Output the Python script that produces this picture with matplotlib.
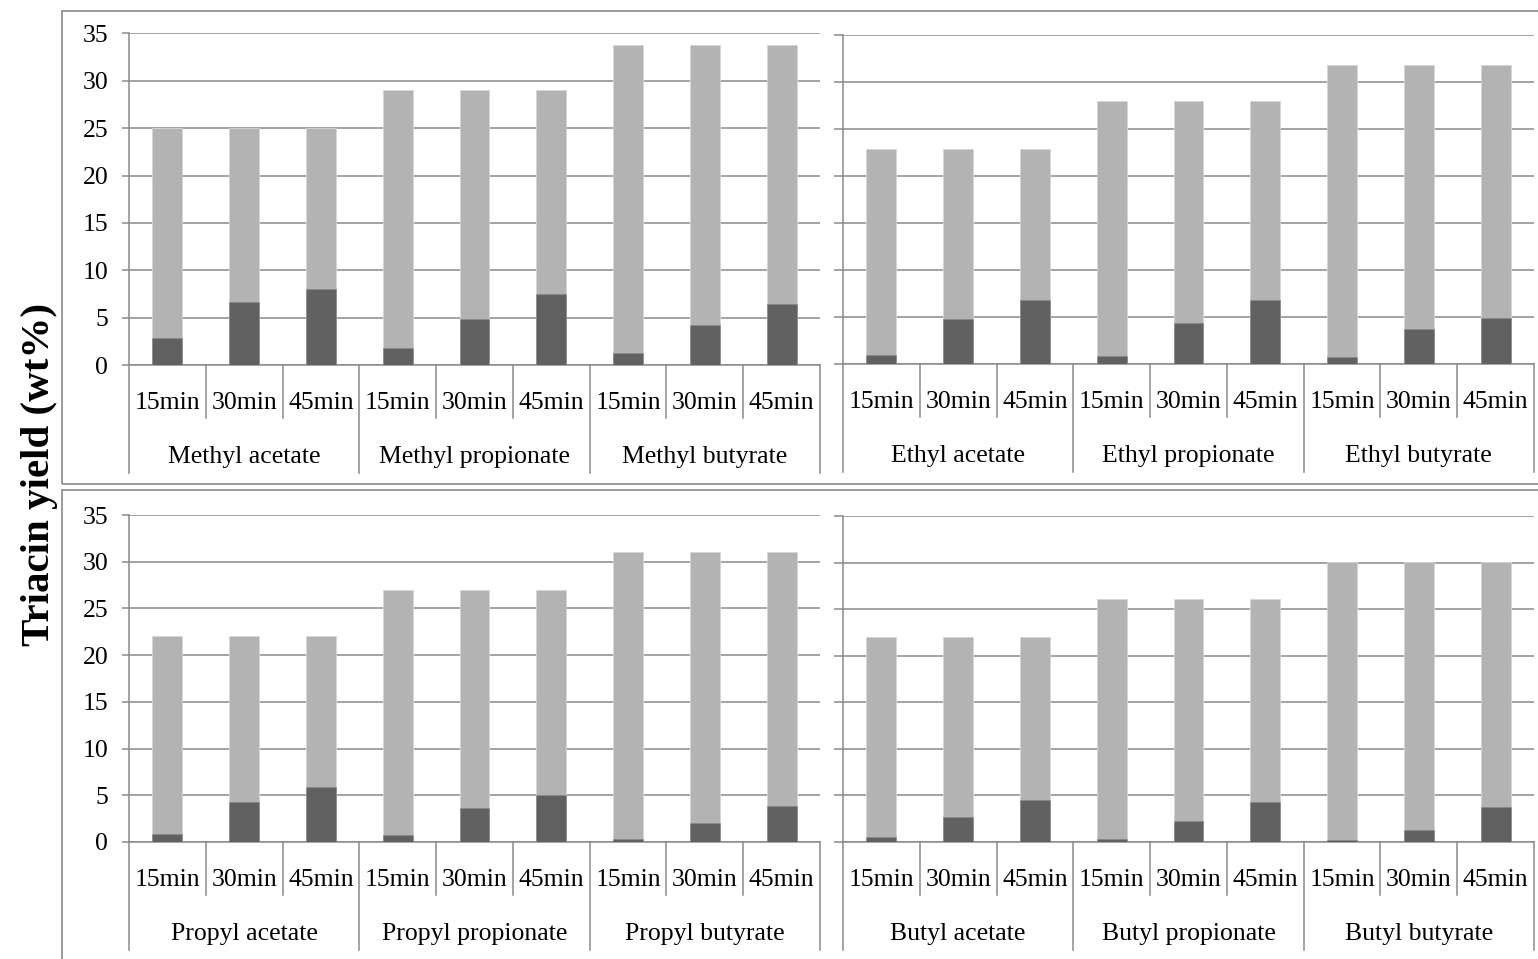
import matplotlib
matplotlib.use("Agg")
import matplotlib.pyplot as plt
from matplotlib.lines import Line2D
from matplotlib.patches import Rectangle
from matplotlib.transforms import blended_transform_factory

# ---------------- data ----------------
time_labels = ["15min", "30min", "45min"]

groups_methyl = ["Methyl acetate", "Methyl propionate", "Methyl butyrate"]
total_methyl = [25.0, 25.0, 25.0, 29.0, 29.0, 29.0, 33.8, 33.8, 33.8]
dark_methyl = [2.8, 6.7, 8.0, 1.8, 4.9, 7.5, 1.3, 4.2, 6.4]

groups_ethyl = ["Ethyl acetate", "Ethyl propionate", "Ethyl butyrate"]
total_ethyl = [22.9, 22.9, 22.9, 28.0, 28.0, 28.0, 31.9, 31.9, 31.9]
dark_ethyl = [1.0, 4.75, 6.8, 0.85, 4.35, 6.8, 0.7, 3.7, 4.85]

groups_propyl = ["Propyl acetate", "Propyl propionate", "Propyl butyrate"]
total_propyl = [22.0, 22.0, 22.0, 27.0, 27.0, 27.0, 31.0, 31.0, 31.0]
dark_propyl = [0.9, 4.3, 5.9, 0.7, 3.6, 5.0, 0.35, 2.0, 3.9]

groups_butyl = ["Butyl acetate", "Butyl propionate", "Butyl butyrate"]
total_butyl = [22.0, 22.0, 22.0, 26.1, 26.1, 26.1, 30.1, 30.1, 30.1]
dark_butyl = [0.55, 2.7, 4.5, 0.3, 2.3, 4.3, 0.2, 1.25, 3.8]

y_ticks = [0, 5, 10, 15, 20, 25, 30, 35]
y_label = "Triacin yield (wt%)"

# ---------------- style ----------------
W, H = 1538, 959
GRAY = "#8a8a8a"
LIGHT = "#b3b3b3"
DARK = "#616161"
FONT = "Liberation Serif"
FS = 18.5

plt.rcParams["font.family"] = [FONT, "DejaVu Serif"]

fig = plt.figure(figsize=(W / 100, H / 100), dpi=100)


def rect(x0, x1, ytop, ybot):
    return [x0 / W, 1 - ybot / H, (x1 - x0) / W, (ybot - ytop) / H]


panels = [
    (rect(129, 820, 33.5, 365), 365, groups_methyl, total_methyl, dark_methyl, True),
    (rect(843, 1534, 35.5, 364), 364, groups_ethyl, total_ethyl, dark_ethyl, False),
    (rect(129, 820, 515, 842), 842, groups_propyl, total_propyl, dark_propyl, True),
    (rect(843, 1534, 516, 842), 842, groups_butyl, total_butyl, dark_butyl, False),
]

for pos, ybot, groups, totals, darks, show_labels in panels:
    ax = fig.add_axes(pos)
    n = len(totals)
    xs = list(range(n))
    ax.bar(xs, totals, width=0.39, color=LIGHT, edgecolor="#d6d6d6",
           linewidth=0.6, zorder=2)
    ax.bar(xs, darks, width=0.39, color=DARK, edgecolor="#8a8a8a",
           linewidth=0.4, zorder=3)
    ax.set_xlim(-0.5, n - 0.5)
    ax.set_ylim(0, 35)
    ax.set_yticks(y_ticks)
    ax.set_xticks([])
    ax.set_axisbelow(True)
    ax.yaxis.grid(True, color=GRAY, linewidth=1.1)
    for s in ("top", "right"):
        ax.spines[s].set_visible(False)
    for s in ("left", "bottom"):
        ax.spines[s].set_color(GRAY)
        ax.spines[s].set_linewidth(1.1)
    ax.tick_params(axis="y", length=5 if show_labels else 6.5, width=1.1,
                   color=GRAY, pad=10, labelsize=FS, labelleft=show_labels)
    for lab in ax.get_yticklabels():
        lab.set_fontfamily(FONT)

    trans = blended_transform_factory(ax.transData, fig.transFigure)

    def fy(off):
        return 1 - (ybot + off) / H

    # time labels
    for i in range(n):
        ax.text(i, fy(44), time_labels[i % 3], transform=trans, ha="center",
                va="baseline", fontsize=FS, family=FONT, clip_on=False)
    # group labels
    for g, name in enumerate(groups):
        ax.text(3 * g + 1, fy(98), name, transform=trans, ha="center",
                va="baseline", fontsize=FS, family=FONT, clip_on=False)
    # separators
    for b in range(n + 1):
        xb = b - 0.5
        long = (b % 3 == 0)
        fig.add_artist(Line2D([xb, xb], [fy(0), fy(108 if long else 53)],
                              transform=trans, color=GRAY, linewidth=1.1))

# outer boxes
fig.add_artist(Rectangle((62 / W, 1 - 484 / H), (1560 - 62) / W, (484 - 11) / H,
                         transform=fig.transFigure, fill=False,
                         edgecolor=GRAY, linewidth=1.2))
fig.add_artist(Rectangle((62 / W, 1 - 980 / H), (1560 - 62) / W, (980 - 490) / H,
                         transform=fig.transFigure, fill=False,
                         edgecolor=GRAY, linewidth=1.2))

fig.text(40 / W, 1 - 474 / H, y_label, rotation=90, fontsize=29.5,
         fontweight="bold", family=FONT, ha="center", va="center")

fig.savefig("out.png", dpi=100)
